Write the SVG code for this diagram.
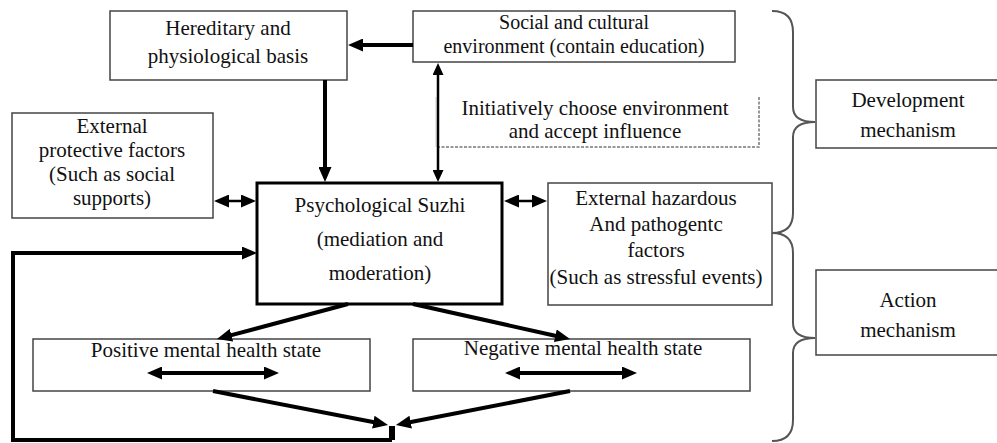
<svg xmlns="http://www.w3.org/2000/svg" width="997" height="443" viewBox="0 0 997 443">
<style>
  text { font-family: "Liberation Serif", "Times New Roman", serif; font-size: 21px; fill: #111; text-anchor: middle; }
  .sm { font-size: 20px; }
  .box { fill: #fff; stroke: #444; stroke-width: 1.5; }
  .main { fill: #fff; stroke: #000; stroke-width: 3; }
  .thick { fill: none; stroke: #000; stroke-width: 4; }
  .thin { fill: none; stroke: #000; stroke-width: 2.5; }
  .brace { fill: none; stroke: #555; stroke-width: 2; }
  .dash { fill: none; stroke: #777; stroke-width: 1.5; stroke-dasharray: 3 1.5; }
</style>
<defs>
  <marker id="a4" markerUnits="userSpaceOnUse" markerWidth="15" markerHeight="13" refX="1" refY="6.5" orient="auto-start-reverse">
    <path d="M0,0 L15,6.5 L0,13 z" fill="#000"/>
  </marker>
  <marker id="a2" markerUnits="userSpaceOnUse" markerWidth="12" markerHeight="11" refX="1" refY="5.5" orient="auto-start-reverse">
    <path d="M0,0 L12,5.5 L0,11 z" fill="#000"/>
  </marker>
</defs>

<g id="hereditary">
  <rect class="box" x="110" y="11" width="237" height="69"/>
  <text x="228" y="35">Hereditary and</text>
  <text x="228" y="63">physiological basis</text>
</g>
<g id="social">
  <rect class="box" x="413" y="11" width="322" height="51"/>
  <text class="sm" x="574" y="29">Social and cultural</text>
  <text class="sm" x="574" y="52.5">environment (contain education)</text>
</g>
<g id="initiative">
  <line x1="436" y1="97" x2="436" y2="147" stroke="#ccc" stroke-width="1"/>
  <path class="dash" d="M759,97 L759,147 L436,147"/>
  <text x="595" y="115">Initiatively choose environment</text>
  <text x="595" y="138">and accept influence</text>
</g>
<g id="protective">
  <rect class="box" x="12" y="113" width="201" height="105"/>
  <text x="112" y="133">External</text>
  <text x="112" y="157">protective factors</text>
  <text x="112" y="181">(Such as social</text>
  <text x="112" y="205">supports)</text>
</g>
<g id="suzhi">
  <rect class="main" x="257" y="183" width="245" height="121"/>
  <text x="380" y="212">Psychological Suzhi</text>
  <text x="380" y="246">(mediation and</text>
  <text x="380" y="280">moderation)</text>
</g>
<g id="hazardous">
  <rect class="box" x="548" y="183" width="224" height="122"/>
  <text x="656" y="205">External hazardous</text>
  <text x="656" y="231">And pathogentc</text>
  <text x="656" y="257">factors</text>
  <text x="656" y="284">(Such as stressful events)</text>
</g>
<g id="positive">
  <rect class="box" x="33" y="339" width="337" height="52"/>
  <text x="206" y="357">Positive mental health state</text>
</g>
<g id="negative">
  <rect class="box" x="413" y="339" width="337" height="52"/>
  <text x="583" y="355">Negative mental health state</text>
</g>
<g id="development">
  <rect class="box" x="816" y="80" width="190" height="68"/>
  <text x="908" y="107">Development</text>
  <text x="908" y="137">mechanism</text>
</g>
<g id="action">
  <rect class="box" x="816" y="270" width="190" height="85"/>
  <text x="908" y="307">Action</text>
  <text x="908" y="337">mechanism</text>
</g>
<g id="braces">
  <path class="brace" d="M772,11 Q793,11 793,32 L793,107 Q793,122 815,122 Q793,122 793,137 L793,213 Q793,233 772,233"/>
  <path class="brace" d="M772,233 Q793,233 793,253 L793,323 Q793,338 815,338 Q793,338 793,353 L793,420 Q793,441 772,441"/>
</g>
<g id="connectors">
  <line class="thick" x1="413" y1="45" x2="362" y2="45" marker-end="url(#a4)"/>
  <line class="thick" x1="325" y1="80" x2="325" y2="168" marker-end="url(#a4)"/>
  <line class="thin" x1="438" y1="74" x2="438" y2="171" marker-start="url(#a2)" marker-end="url(#a2)"/>
  <line class="thin" x1="228" y1="201" x2="242" y2="201" marker-start="url(#a4)" marker-end="url(#a4)"/>
  <line class="thin" x1="518" y1="201" x2="533" y2="201" marker-start="url(#a4)" marker-end="url(#a4)"/>
  <line class="thick" x1="161" y1="373" x2="265" y2="373" stroke-width="3" marker-start="url(#a4)" marker-end="url(#a4)"/>
  <line class="thick" x1="519" y1="373" x2="623" y2="373" stroke-width="3" marker-start="url(#a4)" marker-end="url(#a4)"/>
  <line class="thick" x1="348" y1="304" x2="230.5" y2="335.4" marker-end="url(#a4)"/>
  <line class="thick" x1="413" y1="304" x2="556.3" y2="336" marker-end="url(#a4)"/>
  <line class="thick" x1="213" y1="391" x2="374.3" y2="422.3" marker-end="url(#a4)"/>
  <line class="thick" x1="570" y1="391" x2="409.7" y2="422.3" marker-end="url(#a4)"/>
  <line x1="392" y1="426" x2="392" y2="440" stroke="#000" stroke-width="6"/>
  <path class="thick" d="M392,440 L13,440 L13,253 L243,253" marker-end="url(#a4)"/>
</g>
</svg>
